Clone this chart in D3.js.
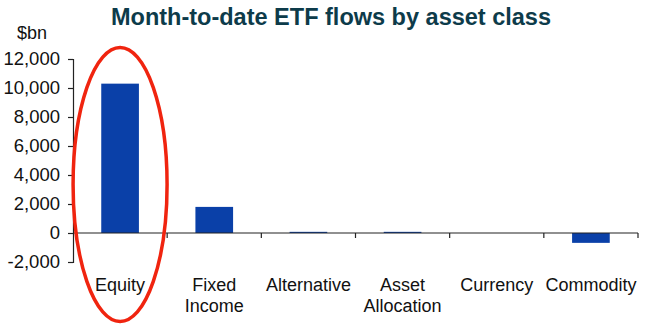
<!DOCTYPE html>
<html>
<head>
<meta charset="utf-8">
<script src="https://cdn.jsdelivr.net/npm/d3@7"></script>
<style>
  html, body { margin: 0; padding: 0; background: #fff; }
  svg { display: block; }
  text { font-family: "Liberation Sans", Arial, sans-serif; }
</style>
</head>
<body>
<svg id="chart" width="645" height="327"></svg>
<script>
// Month-to-date ETF flows, $bn
const categories = ["Equity", "Fixed Income", "Alternative", "Asset Allocation", "Currency", "Commodity"];
const categoryLines = [["Equity"], ["Fixed", "Income"], ["Alternative"], ["Asset", "Allocation"], ["Currency"], ["Commodity"]];
const flows = [10300, 1800, 80, 80, 0, -680];
const yTicks = [-2000, 0, 2000, 4000, 6000, 8000, 10000, 12000];

const svg = d3.select("#chart");

const x = d3.scaleBand()
  .domain(categories)
  .range([73, 638])
  .paddingInner(0.6)
  .paddingOuter(0.3);

const y = d3.scaleLinear()
  .domain([-2000, 12000])
  .range([262, 59]);

const fmt = v => d3.format(",")(v).replace("\u2212", "-");

// Title
svg.append("text")
  .attr("x", 331)
  .attr("y", 25)
  .attr("text-anchor", "middle")
  .attr("font-size", 23.5)
  .attr("font-weight", "bold")
  .attr("fill", "#0d3b4a")
  .text("Month-to-date ETF flows by asset class");

// Unit label
svg.append("text")
  .attr("x", 17)
  .attr("y", 39)
  .attr("font-size", 18)
  .attr("fill", "#111")
  .text("$bn");

// Bars
svg.append("g")
  .selectAll("rect")
  .data(categories.map((c, i) => ({ c, v: flows[i] })))
  .join("rect")
  .attr("x", d => x(d.c))
  .attr("width", x.bandwidth())
  .attr("y", d => y(Math.max(0, d.v)))
  .attr("height", d => Math.abs(y(d.v) - y(0)))
  .attr("fill", "#0a40a8");

// Y axis
const yAxis = svg.append("g")
  .attr("transform", "translate(73,0)")
  .call(d3.axisLeft(y).tickValues(yTicks).tickSize(5).tickPadding(8).tickFormat(fmt));
yAxis.select(".domain").attr("stroke", "#222").attr("stroke-width", 1.2);
yAxis.selectAll(".tick line").attr("stroke", "#222").attr("stroke-width", 1.2);
yAxis.selectAll(".tick text")
  .attr("font-family", "\"Liberation Sans\", Arial, sans-serif")
  .attr("font-size", 18.5)
  .attr("fill", "#111");

// X axis at zero with category boundary ticks
const y0 = y(0);
const step = x.step();
const left = x.range()[0];
svg.append("line")
  .attr("x1", left).attr("x2", x.range()[1])
  .attr("y1", y0).attr("y2", y0)
  .attr("stroke", "#222").attr("stroke-width", 1.2);
svg.append("g")
  .selectAll("line")
  .data(d3.range(1, categories.length + 1))
  .join("line")
  .attr("x1", i => left + i * step).attr("x2", i => left + i * step)
  .attr("y1", y0).attr("y2", y0 + 5)
  .attr("stroke", "#222").attr("stroke-width", 1.2);

// Category labels
const labels = svg.append("g")
  .selectAll("text")
  .data(categories.map((c, i) => ({ c, lines: categoryLines[i] })))
  .join("text")
  .attr("text-anchor", "middle")
  .attr("font-size", 18)
  .attr("fill", "#111");
labels.selectAll("tspan")
  .data(d => d.lines.map(l => ({ l, c: d.c })))
  .join("tspan")
  .attr("x", d => x(d.c) + x.bandwidth() / 2)
  .attr("y", (d, i) => 291 + i * 21)
  .text(d => d.l);

// Highlight ring around the equity column
svg.append("ellipse")
  .attr("cx", x("Equity") + x.bandwidth() / 2)
  .attr("cy", 184.5)
  .attr("rx", 47)
  .attr("ry", 137)
  .attr("fill", "none")
  .attr("stroke", "#f0240f")
  .attr("stroke-width", 3.5);
</script>
</body>
</html>
